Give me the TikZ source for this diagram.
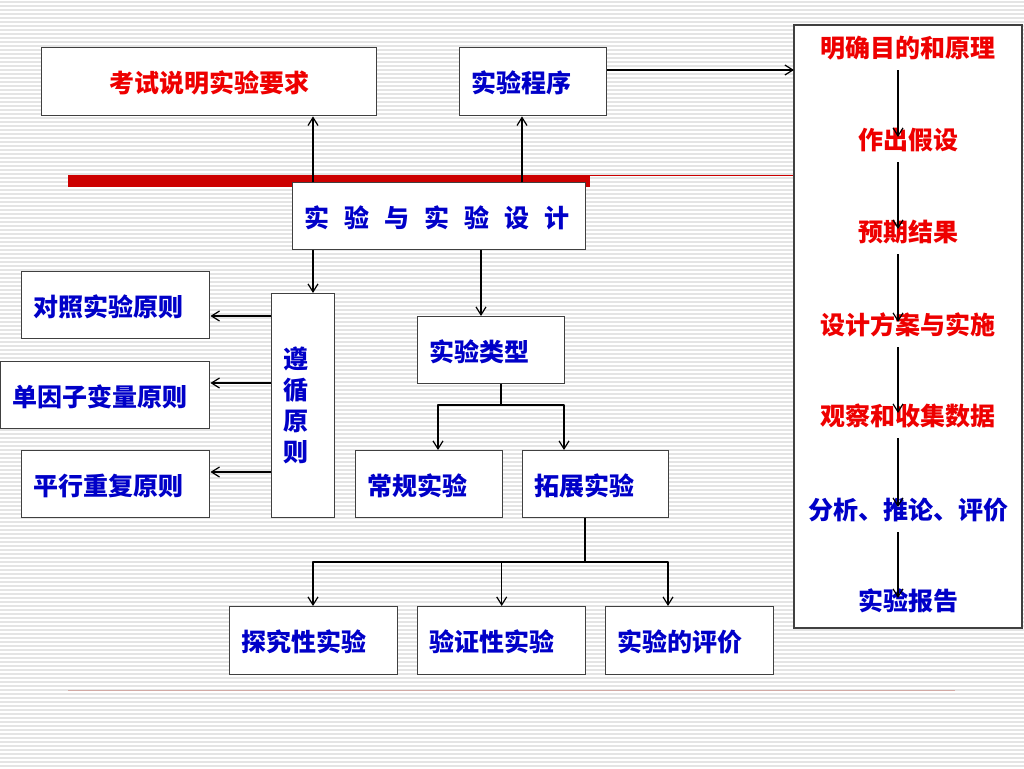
\documentclass[tikz,border=0pt]{standalone}
\usepackage{fontspec}
\usepackage{tikz}
\usetikzlibrary{arrows.meta, calc, positioning}
\usepackage{xcolor}
\newfontfamily\cjk{Noto Sans CJK SC}
\definecolor{TextRed}{RGB}{238,0,0}
\definecolor{TextBlue}{RGB}{0,0,200}
\definecolor{BarRed}{RGB}{204,0,0}
\definecolor{FrameGray}{RGB}{64,64,64}
\definecolor{StripeGray}{RGB}{228,228,228}
\definecolor{RuleRose}{RGB}{210,170,165}
\tikzset{%
  block/.style={%
    rectangle,%
    draw=FrameGray,%
    line width=1.4pt,%
    fill=white,%
    anchor=north west,%
    inner xsep=12pt,%
    inner ysep=0pt,%
    align=left,%
    text=TextBlue,%
    text height=25pt,%
    text depth=3pt,%
    font={\cjk\bfseries\fontsize{25}{31}\selectfont}%
  },
  wh/.style 2 args={%
    text width=#1,%
    minimum height=#2%
  },
  step_text/.style={%
    inner xsep=0pt,%
    inner ysep=10pt,%
    font={\cjk\bfseries\fontsize{25}{31}\selectfont}%
  },
  frame/.style={%
    draw=FrameGray,%
    line width=1.4pt,%
    fill=white%
  },
  signal/.style={%
    color=black,%
    line width=1.2pt,%
    line join=round%
  },
  arrow/.style={-{Straight Barb[length=8pt, width=10pt]}},
  stripe/.style={%
    StripeGray,%
    line width=1.6pt%
  },
}
\begin{document}
\begin{tikzpicture}[x=1pt, y=-1pt]
  \useasboundingbox (0,0) rectangle (1024,768);
  \fill [white] (0,0) rectangle (1024,768);
  \foreach \y in {2,6,...,766}
    \draw [stripe] (0,\y) -- (1024,\y);

  % red rule under the titles
  \fill [BarRed] (68,175) rectangle (590,187);
  \draw [BarRed, line width=1.2pt] (590,175.5) -- (794,175.5);
  \draw [RuleRose, line width=1pt] (68,690) -- (955,690);

  \node [block, wh={311pt}{68pt}, align=center, text=TextRed] (Exam) at (41,47) {考试说明实验要求};
  \node [block, wh={123pt}{68pt}] (Procedure) at (459,47) {实验程序};
  \node [block, wh={269pt}{67pt}] (Design) at (292,182)
    {实\hspace{0.6em}验\hspace{0.6em}与\hspace{0.6em}实\hspace{0.6em}验\hspace{0.6em}设\hspace{0.6em}计};
  \node [block, wh={39pt}{224pt}, text height=, text depth=] (Principle) at (271,293) {遵\\循\\原\\则};
  \node [block, wh={164pt}{67pt}] (Control) at (21,271) {对照实验原则};
  \node [block, wh={185pt}{67pt}] (Single) at (0,361) {单因子变量原则};
  \node [block, wh={164pt}{67pt}] (Repeat) at (21,450) {平行重复原则};
  \node [block, wh={123pt}{67pt}] (Types) at (417,316) {实验类型};
  \node [block, wh={123pt}{67pt}] (Regular) at (355,450) {常规实验};
  \node [block, wh={122pt}{67pt}] (Extended) at (522,450) {拓展实验};
  \node [block, wh={144pt}{68pt}] (Explore) at (229,606) {探究性实验};
  \node [block, wh={144pt}{68pt}] (Verify) at (417,606) {验证性实验};
  \node [block, wh={144pt}{68pt}] (Evaluate) at (605,606) {实验的评价};

  % procedure steps
  \draw [frame] (794,25) rectangle (1022,628);
  \coordinate (Steps) at (794,25);
  \foreach \lbl/\y/\c [count=\i] in {%
      明确目的和原理/48/TextRed, 作出假设/140/TextRed, 预期结果/232/TextRed,%
      设计方案与实施/325/TextRed, 观察和收集数据/416/TextRed,%
      分析、推论、评价/510/TextBlue, 实验报告/601/TextBlue}
    \node [step_text, text=\c] (Step\i) at (908,\y) {\lbl};
  \foreach \i [evaluate=\i as \j using int(\i+1)] in {1,...,6}
    \draw [arrow, signal]
      ([xshift=-10pt]Step\i.south) -- ([xshift=-10pt, yshift=3pt]Step\j.center);

  \coordinate (xL) at (313,0);
  \coordinate (xR) at (522,0);
  \coordinate (xT) at (481,0);
  \coordinate (yPD) at (0,70);
  \coordinate (yC) at (0,316);
  \coordinate (yS) at (0,383);
  \coordinate (yR) at (0,472);
  \coordinate (TypesFork) at (501,405);
  \coordinate (ExtFork) at (585,562);

  \draw [arrow, signal]
    (Procedure.east |- yPD) -- (Steps |- yPD);
  \draw [arrow, signal]
    (Design.north -| xL) -- (Exam.south -| xL);
  \draw [arrow, signal]
    (Design.north -| xR) -- (Procedure.south -| xR);
  \draw [arrow, signal]
    (Design.south -| xL) -- (Principle.north -| xL);
  \draw [arrow, signal]
    (Design.south -| xT) -- (Types.north -| xT);
  \draw [arrow, signal]
    (Principle.west |- yC) -- (Control.east |- yC);
  \draw [arrow, signal]
    (Principle.west |- yS) -- (Single.east |- yS);
  \draw [arrow, signal]
    (Principle.west |- yR) -- (Repeat.east |- yR);
  \draw [arrow, signal]
    (Types.south -| TypesFork) -- (TypesFork) -| ([xshift=83pt]Regular.north west);
  \draw [arrow, signal]
    (TypesFork) -| ([xshift=42pt]Extended.north west);
  \draw [arrow, signal]
    (Extended.south -| ExtFork) -- (ExtFork) -| ([xshift=84pt]Explore.north west);
  \draw [arrow, signal]
    (ExtFork) -| (Verify.north);
  \draw [arrow, signal]
    (ExtFork) -| ([xshift=63pt]Evaluate.north west);
\end{tikzpicture}
\end{document}
